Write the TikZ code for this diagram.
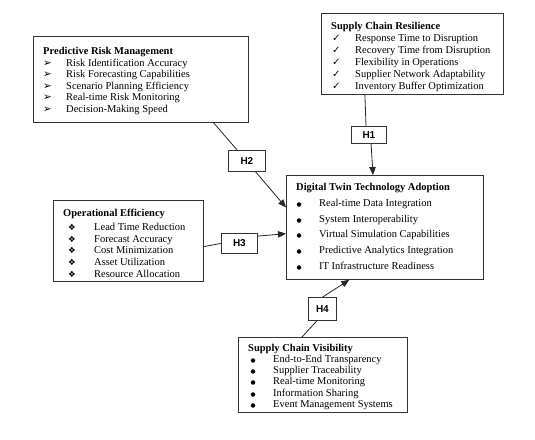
\documentclass[tikz,border=0pt]{standalone}
\usepackage{fontspec}
\setmainfont{Liberation Serif}
\setsansfont{Liberation Sans}
\newfontfamily\symf{DejaVu Sans}
\usepackage{array}
\usetikzlibrary{arrows.meta,calc}
\newcommand\barr{{\symf\fontsize{10.5}{8}\selectfont ➢}}
\newcommand\bchk{{\symf\fontsize{10}{9}\selectfont ✓}}
\newcommand\bdia{{\symf\fontsize{8.5}{7}\selectfont ❖}}
\newcommand\bdot{{\symf\fontsize{5.8}{6}\selectfont ●}}
\tikzset{
 frame/.style={draw=black!80, line width=0.8pt, fill=white, anchor=north west, inner sep=0},
 hbox/.style={frame, font=\sffamily\bfseries\fontsize{10}{12}\selectfont},
 txt/.style={anchor=base west, inner sep=0, align=left},
 conn/.style={draw=black!85, line width=0.8pt},
 arr/.style={conn, -{Triangle[length=8pt,width=6.5pt]}}
}
\begin{document}
\begin{tikzpicture}[x=1pt,y=-1pt]
\useasboundingbox (0,0) rectangle (535,439);
% boxes
\node[frame, minimum width=215, minimum height=86] (prm) at (33,36) {};
\node[frame, minimum width=182, minimum height=81] (scr) at (321,13) {};
\node[frame, minimum width=150, minimum height=81] (oe) at (53,200) {};
\node[frame, minimum width=197, minimum height=104] (dt) at (286,175) {};
\node[frame, minimum width=169, minimum height=75] (scv) at (238,337) {};
% hypothesis boxes
\node[hbox, minimum width=37, minimum height=21] (h2) at (228,150) {H2};
\node[hbox, minimum width=36, minimum height=20] (h3) at (221,233) {H3};
\node[hbox, minimum width=35, minimum height=17] (h1) at (351,126) {H1};
\node[hbox, minimum width=28, minimum height=23] (h4) at (308,297) {H4};
% texts
\node[txt] (prmt) at (43,54.5) {\fontsize{10.5}{11.5}\selectfont
\begin{tabular}[t]{@{}>{\hspace{0pt}}p{23pt}@{}l@{}}
\multicolumn{2}{@{}l@{}}{\bfseries Predictive Risk Management}\\
\barr & Risk Identification Accuracy\\
\barr & Risk Forecasting Capabilities\\
\barr & Scenario Planning Efficiency\\
\barr & Real-time Risk Monitoring\\
\barr & Decision-Making Speed
\end{tabular}};
\node[txt] (scrt) at (331,29.2) {\fontsize{10.5}{12.1}\selectfont
\begin{tabular}[t]{@{}>{\hspace{1pt}}p{24pt}@{}l@{}}
\multicolumn{2}{@{}l@{}}{\bfseries Supply Chain Resilience}\\
\bchk & Response Time to Disruption\\
\bchk & Recovery Time from Disruption\\
\bchk & Flexibility in Operations\\
\bchk & Supplier Network Adaptability\\
\bchk & Inventory Buffer Optimization
\end{tabular}};
\node[txt] (oet) at (63,216.8) {\fontsize{10.5}{11.8}\selectfont
\begin{tabular}[t]{@{}>{\hspace{5pt}}p{31pt}@{}l@{}}
\multicolumn{2}{@{}l@{}}{\bfseries Operational Efficiency}\\[1.6pt]
\bdia & Lead Time Reduction\\
\bdia & Forecast Accuracy\\
\bdia & Cost Minimization\\
\bdia & Asset Utilization\\[0.5pt]
\bdia & Resource Allocation
\end{tabular}};
\node[txt] (dtt) at (296,190.8) {\fontsize{10.5}{15.7}\selectfont
\begin{tabular}[t]{@{}>{\hspace{0.5pt}}p{23pt}@{}l@{}}
\multicolumn{2}{@{}l@{}}{\bfseries Digital Twin Technology Adoption}\\
\bdot & Real-time Data Integration\\
\bdot & System Interoperability\\
\bdot & Virtual Simulation Capabilities\\
\bdot & Predictive Analytics Integration\\
\bdot & IT Infrastructure Readiness
\end{tabular}};
\node[txt] (scvt) at (248,351) {\fontsize{10.5}{11.3}\selectfont
\begin{tabular}[t]{@{}>{\hspace{2.5pt}}p{25pt}@{}l@{}}
\multicolumn{2}{@{}l@{}}{\bfseries Supply Chain Visibility}\\
\bdot & End-to-End Transparency\\
\bdot & Supplier Traceability\\
\bdot & Real-time Monitoring\\
\bdot & Information Sharing\\
\bdot & Event Management Systems
\end{tabular}};
% connectors
\draw[conn] ($(prm.south west)!0.837!(prm.south east)$) -- ($(h2.north west)!0.24!(h2.north east)$);
\draw[arr] ($(h2.south west)!0.73!(h2.south east)$) -- ($(dt.north west)!0.31!(dt.south west)$);
\draw[conn] ($(oe.north east)!0.57!(oe.south east)$) -- (h3.west);
\draw[arr] ($(h3.north east)!0.15!(h3.south east)$) -- ($(dt.north west)!0.56!(dt.south west)$);
\draw[conn] ($(scr.south west)!0.24!(scr.south east)$) -- ($(h1.north west)!0.42!(h1.north east)$);
\draw[arr] ($(h1.south west)!0.56!(h1.south east)$) -- ($(dt.north west)!0.44!(dt.north east)$);
\draw[conn] ($(scv.north west)!0.377!(scv.north east)$) -- ($(h4.south west)!0.31!(h4.south east)$);
\draw[arr] ($(h4.north west)!0.51!(h4.north east)$) -- ($(dt.south west)!0.32!(dt.south east)$);
\end{tikzpicture}
\end{document}
